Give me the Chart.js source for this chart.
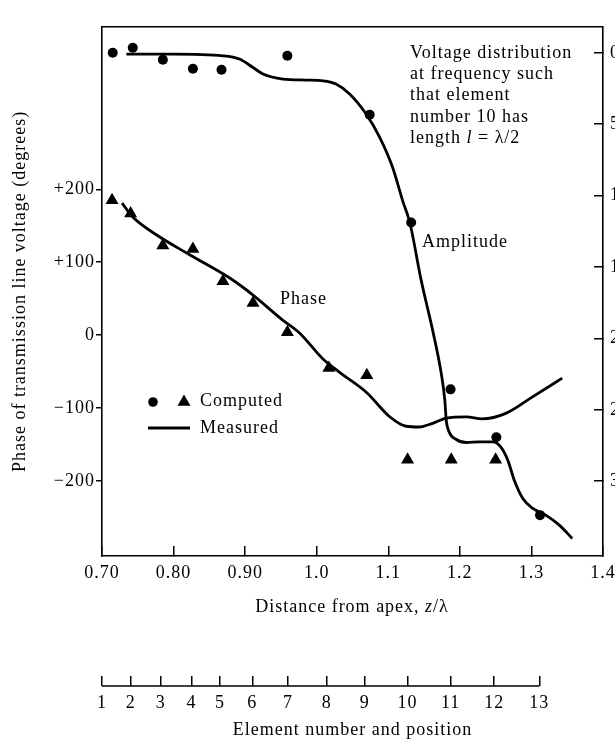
<!DOCTYPE html>
<html>
<head>
<meta charset="utf-8">
<script src="https://cdn.jsdelivr.net/npm/chart.js@4"></script>
<style>
  html, body { margin: 0; padding: 0; background: #fff; overflow: hidden; }
  #wrap { width: 615px; height: 743px; overflow: hidden; }
  canvas { display: block; }
</style>
</head>
<body>
<div id="wrap"><canvas id="chart" width="633" height="743" style="width:633px;height:743px"></canvas></div>
<script>
// ---- data ----
const xTickValues = [0.7, 0.8, 0.9, 1.0, 1.1, 1.2, 1.3, 1.4];
const xTickLabels = ['0.70', '0.80', '0.90', '1.0', '1.1', '1.2', '1.3', '1.4'];
const phaseTickValues = [-200, -100, 0, 100, 200];
const phaseTickLabels = ['\u2212200', '\u2212100', '0', '+100', '+200'];
const ampTickValues = [0, 5, 10, 15, 20, 25, 30];
const elementNumbers = [1, 2, 3, 4, 5, 6, 7, 8, 9, 10, 11, 12, 13];
const elementZ = [0.70, 0.740, 0.782, 0.825, 0.865, 0.910, 0.960, 1.014, 1.067, 1.127, 1.187, 1.248, 1.311];

// measured amplitude (dB below max, right axis)
const ampCurveZ = [0.734, 0.799, 0.869, 0.892, 0.911, 0.925, 0.953, 0.985, 1.009, 1.027, 1.046, 1.069, 1.088, 1.106, 1.120, 1.130, 1.146, 1.162, 1.174, 1.179, 1.181, 1.185, 1.195, 1.209, 1.227, 1.246, 1.257, 1.267, 1.276, 1.288, 1.302, 1.320, 1.339, 1.357];
const ampCurveDb = [0.09, 0.09, 0.21, 0.44, 1.03, 1.49, 1.84, 1.91, 1.96, 2.19, 2.89, 4.29, 5.92, 8.02, 10.35, 11.87, 15.94, 19.44, 22.45, 24.34, 25.73, 26.55, 27.08, 27.29, 27.25, 27.25, 27.60, 28.53, 29.93, 31.21, 31.91, 32.38, 33.08, 34.01];
// computed amplitude (circles)
const ampPtsZ = [0.715, 0.743, 0.785, 0.827, 0.867, 0.959, 1.074, 1.132, 1.187, 1.251, 1.312];
const ampPtsDb = [0.0, -0.35, 0.49, 1.12, 1.19, 0.21, 4.34, 11.89, 23.57, 26.92, 32.38];

// measured phase (degrees, left axis)
const phaseCurveZ = [0.728, 0.743, 0.777, 0.823, 0.879, 0.911, 0.952, 0.976, 1.008, 1.032, 1.070, 1.102, 1.125, 1.143, 1.162, 1.181, 1.209, 1.231, 1.265, 1.301, 1.343];
const phaseCurveDeg = [181, 162, 137, 110, 78, 55, 21, 3, -32, -51, -79, -112, -125, -126, -121, -114, -112, -115, -107, -85, -59];
// computed phase (triangles)
const phasePtsZ = [0.714, 0.740, 0.785, 0.827, 0.869, 0.911, 0.959, 1.017, 1.070, 1.127, 1.188, 1.250];
const phasePtsDeg = [185, 167, 123, 118, 74, 44, 4, -45, -55, -171, -171, -171];

// ---- styling ----
const INK = '#000';
const FAMILY = '"Liberation Serif", "Times New Roman", serif';
const ROMAN = '18px ' + FAMILY;
const ITALIC = 'italic 18px ' + FAMILY;

Chart.defaults.font.family = FAMILY;
Chart.defaults.font.size = 18;
Chart.defaults.color = INK;

const pts = (xs, ys) => xs.map((x, i) => ({ x, y: ys[i] }));
const fixedTicks = vals => scale => { scale.ticks = vals.map(v => ({ value: v })); };

// draws a run of text pieces, each with its own font (for italic symbols)
function rich(ctx, parts, x, y, align) {
  let w = 0;
  parts.forEach(p => { ctx.font = p[1]; w += ctx.measureText(p[0]).width; });
  let cx = align === 'center' ? x - w / 2 : x;
  ctx.textAlign = 'left';
  ctx.textBaseline = 'middle';
  parts.forEach(p => {
    ctx.font = p[1];
    ctx.fillText(p[0], cx, y);
    cx += ctx.measureText(p[0]).width;
  });
}

const paper = {
  id: 'paper',
  beforeUpdate(chart) { chart.ctx.letterSpacing = '1px'; },
  beforeDraw(chart) {
    const { ctx, width, height } = chart;
    ctx.letterSpacing = '1px';
    ctx.save();
    ctx.fillStyle = '#fff';
    ctx.fillRect(0, 0, width, height);
    ctx.restore();
  },
  afterDraw(chart) {
    const { ctx, chartArea: a, scales } = chart;
    const sx = scales.x, xe = scales.xElem;
    ctx.save();
    ctx.strokeStyle = INK;
    ctx.fillStyle = INK;
    ctx.lineWidth = 1.6;

    // top edge of the frame
    ctx.beginPath();
    ctx.moveTo(a.left, a.top);
    ctx.lineTo(a.right, a.top);
    ctx.stroke();

    // element scale baseline (only spans elements 1..13)
    ctx.beginPath();
    ctx.moveTo(sx.getPixelForValue(elementZ[0]), xe.top);
    ctx.lineTo(sx.getPixelForValue(elementZ[elementZ.length - 1]), xe.top);
    ctx.stroke();

    // x-axis title
    rich(ctx, [['Distance from apex, ', ROMAN], ['z', ITALIC], ['/\u03bb', ROMAN]], 352, 607, 'center');

    // note block
    const nx = 410, ny = 53, lh = 21.3;
    rich(ctx, [['Voltage distribution', ROMAN]], nx, ny);
    rich(ctx, [['at frequency such', ROMAN]], nx, ny + lh);
    rich(ctx, [['that element', ROMAN]], nx, ny + 2 * lh);
    rich(ctx, [['number 10 has', ROMAN]], nx, ny + 3 * lh);
    rich(ctx, [['length ', ROMAN], ['l', ITALIC], [' = \u03bb/2', ROMAN]], nx, ny + 4 * lh);

    // curve labels
    rich(ctx, [['Amplitude', ROMAN]], 422, 242);
    rich(ctx, [['Phase', ROMAN]], 280, 299);

    // legend
    ctx.beginPath();
    ctx.arc(153, 402, 4.8, 0, Math.PI * 2);
    ctx.fill();
    const r = 7.5, tx = 184, ty = 402;
    ctx.beginPath();
    ctx.moveTo(tx, ty - r);
    ctx.lineTo(tx + r * Math.sin(2 * Math.PI / 3), ty - r * Math.cos(2 * Math.PI / 3));
    ctx.lineTo(tx + r * Math.sin(4 * Math.PI / 3), ty - r * Math.cos(4 * Math.PI / 3));
    ctx.closePath();
    ctx.fill();
    rich(ctx, [['Computed', ROMAN]], 200, 401);
    ctx.lineWidth = 2.8;
    ctx.beginPath();
    ctx.moveTo(148, 428);
    ctx.lineTo(190, 428);
    ctx.stroke();
    rich(ctx, [['Measured', ROMAN]], 200, 428);
    ctx.restore();
  }
};

new Chart(document.getElementById('chart'), {
  type: 'scatter',
  data: {
    datasets: [
      {
        label: 'Amplitude measured', yAxisID: 'yAmp',
        data: pts(ampCurveZ, ampCurveDb),
        showLine: true, borderColor: INK, borderWidth: 2.8,
        cubicInterpolationMode: 'monotone', pointRadius: 0
      },
      {
        label: 'Phase measured', yAxisID: 'yPhase',
        data: pts(phaseCurveZ, phaseCurveDeg),
        showLine: true, borderColor: INK, borderWidth: 2.8,
        cubicInterpolationMode: 'monotone', pointRadius: 0
      },
      {
        label: 'Amplitude computed', yAxisID: 'yAmp',
        data: pts(ampPtsZ, ampPtsDb),
        pointStyle: 'circle', pointRadius: 5, pointBorderWidth: 0,
        pointBackgroundColor: INK
      },
      {
        label: 'Phase computed', yAxisID: 'yPhase',
        data: pts(phasePtsZ, phasePtsDeg),
        pointStyle: 'triangle', pointRadius: 7.5, pointBorderWidth: 0,
        pointBackgroundColor: INK
      }
    ]
  },
  options: {
    responsive: false,
    animation: false,
    layout: { padding: { top: 26, left: 0, right: 0, bottom: 0 } },
    plugins: { legend: { display: false }, tooltip: { enabled: false } },
    scales: {
      x: {
        type: 'linear', position: 'bottom', weight: 0,
        min: 0.7, max: 1.4,
        afterBuildTicks: fixedTicks(xTickValues),
        afterFit: s => { s.height = 130; },
        grid: { drawOnChartArea: false, tickLength: -10, color: INK, lineWidth: 1.5 },
        border: { display: true, color: INK, width: 1.6 },
        ticks: { autoSkip: false, maxRotation: 0, padding: 16, callback: (v, i) => xTickLabels[i] }
      },
      xElem: {
        type: 'linear', position: 'bottom', weight: 1,
        min: 0.7, max: 1.4,
        afterBuildTicks: fixedTicks(elementZ),
        afterFit: s => { s.height = 57; },
        grid: { drawOnChartArea: false, tickLength: -10, color: INK, lineWidth: 1.5 },
        border: { display: false },
        ticks: { autoSkip: false, maxRotation: 0, padding: 16, callback: (v, i) => String(elementNumbers[i]) },
        title: { display: true, text: 'Element number and position', padding: { top: 0, bottom: 2 } }
      },
      yPhase: {
        type: 'linear', position: 'left',
        min: -303, max: 423,
        afterBuildTicks: fixedTicks(phaseTickValues),
        afterFit: s => { s.width = 102; },
        grid: { drawOnChartArea: false, tickLength: 6, color: INK, lineWidth: 1.5 },
        border: { display: true, color: INK, width: 1.6 },
        ticks: { padding: 1, callback: (v, i) => phaseTickLabels[i] },
        title: { display: true, text: 'Phase of transmission line voltage (degrees)', padding: { top: 9, bottom: 0 } }
      },
      yAmp: {
        type: 'linear', position: 'right', reverse: true,
        min: -1.82, max: 35.24,
        afterBuildTicks: fixedTicks(ampTickValues),
        afterFit: s => { s.width = 30; },
        grid: { drawOnChartArea: false, tickLength: -9, color: INK, lineWidth: 1.5 },
        border: { display: true, color: INK, width: 1.6 },
        ticks: { padding: 16, callback: v => String(v) }
      }
    }
  },
  plugins: [paper]
});
</script>
</body>
</html>
